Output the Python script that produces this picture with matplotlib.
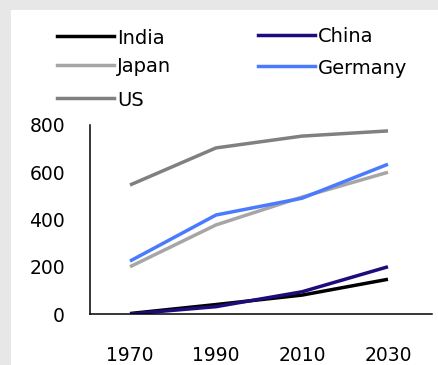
import matplotlib.pyplot as plt
from matplotlib.lines import Line2D
from matplotlib.patches import Rectangle

# data
years = ["1970", "1990", "2010", "2030"]
india = [2, 40, 80, 147]
china = [0, 31, 94, 200]
japan = [200, 377, 495, 600]
germany = [224, 419, 490, 634]
us = [546, 703, 753, 775]

names = ["India", "China", "Japan", "Germany", "US"]
colors = ["#000000", "#1c0c7c", "#a6a6a6", "#4a7bff", "#808080"]
series = [india, china, japan, germany, us]

W, H = 438, 365
fig = plt.figure(figsize=(W / 100, H / 100), dpi=100)
fig.patch.set_facecolor("#e7e7e7")
fig.patches.append(Rectangle((11 / W, 0), 1, 1 - 10 / H, transform=fig.transFigure,
                             facecolor="white", edgecolor="none", zorder=-5))

ax = fig.add_axes([90 / W, 51 / H, 342 / W, 189 / H])
ax.set_facecolor("none")
ax.set_zorder(2)

x = range(len(years))
# draw back to front so the dark lines sit on top
for i in [4, 2, 3, 0, 1]:
    ax.plot(x, series[i], color=colors[i], lw=2.5, solid_capstyle="butt")

ax.set_xlim(-0.465, 3.512)
ax.set_ylim(0, 800)
ax.set_yticks([0, 200, 400, 600, 800])
ax.set_xticks(list(x))
ax.set_xticklabels(years)
for s in ["top", "right"]:
    ax.spines[s].set_visible(False)
for s in ["left", "bottom"]:
    ax.spines[s].set_linewidth(1.1)
ax.tick_params(axis="y", length=0, pad=18, labelsize=13.5)
ax.tick_params(axis="x", length=0, pad=23, labelsize=13.5)

# legend, drawn by hand
legend_pos = {
    "India": (57, 36), "Japan": (57, 65), "US": (57, 98),
    "China": (258, 35), "Germany": (258, 66),
}
for name, c in zip(names, colors):
    lx, ly = legend_pos[name]
    fig.add_artist(Line2D([lx / W, (lx + 57) / W], [1 - ly / H, 1 - ly / H],
                          transform=fig.transFigure, color=c, lw=2.5))
    fig.text((lx + 60) / W, 1 - ly / H, name, fontsize=14, va="center_baseline",
             ha="left")

fig.savefig("out.png", dpi=100)
